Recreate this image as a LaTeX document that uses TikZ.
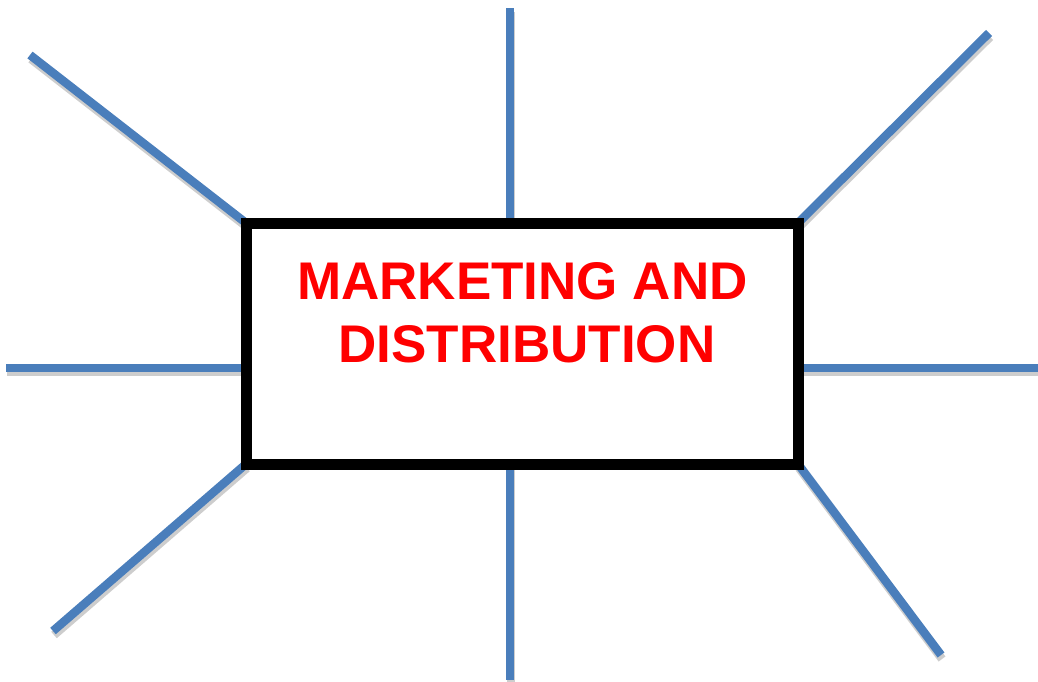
\documentclass[tikz,border=0pt]{standalone}
\usepackage{fontspec}
\setmainfont{Liberation Sans}
\definecolor{spokeblue}{RGB}{74,126,187}
\definecolor{spokeshadow}{RGB}{205,205,205}
\begin{document}
\begin{tikzpicture}[x=1pt,y=-1pt,
  spoke/.style={draw=spokeblue,line width=8.5pt},
  spokeshade/.style={draw=spokeshadow,line width=8.5pt,transform canvas={shift={(1pt,-4pt)}}},
  boxstyle/.style={draw=black,line width=11pt,fill=none,inner sep=0pt,minimum width=552pt,minimum height=241pt},
  title/.style={text=red,font=\fontsize{53}{63}\selectfont\bfseries,inner sep=0pt,anchor=base}]
\useasboundingbox (0,0) rectangle (1038,682);
% box attachment points
\coordinate (tl) at (246,223);
\coordinate (tm) at (510,223);
\coordinate (tr) at (798,223);
\coordinate (ml) at (246,368);
\coordinate (mr) at (798,368);
\coordinate (bl) at (246,464);
\coordinate (bm) at (510,464);
\coordinate (br) at (798,464);
% free ends
\coordinate (etl) at (30,55);
\coordinate (etm) at (510,8);
\coordinate (etr) at (989,33);
\coordinate (eml) at (6,368);
\coordinate (emr) at (1038,368);
\coordinate (ebl) at (53,631);
\coordinate (ebm) at (510,680);
\coordinate (ebr) at (941,655);
\foreach \a/\b in {tl/etl,tm/etm,tr/etr,ml/eml,mr/emr,bl/ebl,bm/ebm,br/ebr}{
  \draw[spokeshade] (\a) -- (\b);
}
\foreach \a/\b in {tl/etl,tm/etm,tr/etr,ml/eml,mr/emr,bl/ebl,bm/ebm,br/ebr}{
  \draw[spoke] (\a) -- (\b);
}
\node[boxstyle] (box) at (522,343.5) {};
\node[title] (t1) at (522.5,299) {MARKETING AND};
\node[title] (t2) at (527,362) {DISTRIBUTION};
\end{tikzpicture}
\end{document}
